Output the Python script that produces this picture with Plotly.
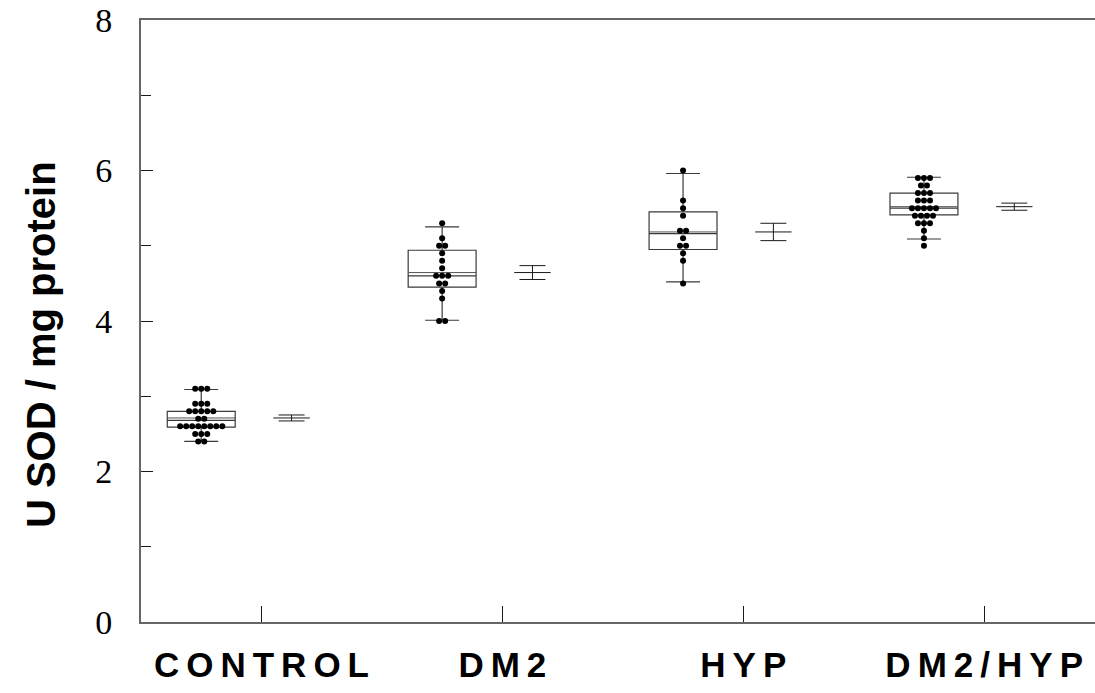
import numpy as np
import plotly.graph_objects as go

# Groups along the x axis
groups = ["CONTROL", "DM2", "HYP", "DM2/HYP"]

# Individual measurements (U SOD / mg protein)
control_vals = [3.1, 3.1, 3.1, 2.9, 2.9, 2.9, 2.8, 2.8, 2.8, 2.8, 2.8, 2.7, 2.7,
                2.6, 2.6, 2.6, 2.6, 2.6, 2.6, 2.6, 2.6, 2.5, 2.5, 2.5, 2.4, 2.4]
dm2_vals = [5.3, 5.1, 5.0, 5.0, 4.9, 4.8, 4.7, 4.6, 4.6, 4.6, 4.5, 4.5, 4.4, 4.3,
            4.0, 4.0]
hyp_vals = [6.0, 5.6, 5.5, 5.4, 5.2, 5.2, 5.1, 5.0, 5.0, 4.9, 4.8, 4.5]
dm2hyp_vals = [5.9, 5.9, 5.9, 5.8, 5.8, 5.7, 5.7, 5.7, 5.6, 5.6, 5.6,
               5.5, 5.5, 5.5, 5.5, 5.5, 5.4, 5.4, 5.4, 5.4,
               5.3, 5.3, 5.3, 5.2, 5.1, 5.0]
group_vals = [control_vals, dm2_vals, hyp_vals, dm2hyp_vals]

# Box summary per group (quartiles, median, whisker ends)
box_q1 = [2.59, 4.45, 4.95, 5.41]
box_median = [2.68, 4.60, 5.16, 5.50]
box_q3 = [2.80, 4.94, 5.45, 5.70]
whisker_lo = [2.40, 4.01, 4.52, 5.09]
whisker_hi = [3.09, 5.25, 5.96, 5.91]

# Layout of each group slot (x units, category centre at integer)
BOX_OFFSET = -0.25
SE_OFFSET = 0.125
BOX_WIDTH = 0.282
DOT_STEP = 0.025

LINE_GREY = "#666666"
INK = "#1a1a1a"
SANS = "Liberation Sans, Arial, sans-serif"

fig = go.Figure()

for i, vals in enumerate(group_vals):
    pos = i + BOX_OFFSET
    arr = np.asarray(vals, dtype=float)
    mean = arr.mean()
    sem = arr.std(ddof=1) / np.sqrt(arr.size)

    # box with whiskers
    fig.add_trace(go.Box(
        x=[pos], q1=[box_q1[i]], median=[box_median[i]], q3=[box_q3[i]],
        lowerfence=[whisker_lo[i]], upperfence=[whisker_hi[i]],
        width=BOX_WIDTH, whiskerwidth=0.5, boxpoints=False,
        fillcolor="rgba(0,0,0,0)", line=dict(color="#3a3a3a", width=1.2),
        hoverinfo="skip", showlegend=False,
    ))

    # mean line across the box
    fig.add_trace(go.Scatter(
        x=[pos - BOX_WIDTH / 2, pos + BOX_WIDTH / 2], y=[mean, mean],
        mode="lines", line=dict(color="#555555", width=1),
        hoverinfo="skip", showlegend=False,
    ))

    # dots stacked side by side when values coincide
    xs, ys = [], []
    uniq, counts = np.unique(np.round(arr, 2), return_counts=True)
    for v, n in zip(uniq, counts):
        for k in range(n):
            xs.append(pos + (k - (n - 1) / 2) * DOT_STEP)
            ys.append(v)
    fig.add_trace(go.Scatter(
        x=xs, y=ys, mode="markers",
        marker=dict(color="black", size=6, line=dict(width=0)),
        showlegend=False,
    ))

    # mean +/- SEM mark
    fig.add_trace(go.Scatter(
        x=[i + SE_OFFSET], y=[mean], mode="markers",
        marker=dict(symbol="line-ew", size=26, color=INK,
                    line=dict(color=INK, width=1)),
        error_y=dict(type="data", array=[sem], width=13, thickness=1,
                     color=INK),
        showlegend=False,
    ))

# letter-spaced category labels
tick_text = ["\u2009".join(g) for g in groups]

fig.update_layout(
    width=1095, height=693,
    margin=dict(l=141, r=0, t=20, b=71),
    paper_bgcolor="white", plot_bgcolor="white",
    xaxis=dict(
        range=[-0.5, 3.46], tickvals=[0, 1, 2, 3], ticktext=tick_text,
        ticks="inside", ticklen=16, tickcolor=INK, tickwidth=1,
        showline=True, linecolor=LINE_GREY, linewidth=2, mirror=True,
        showgrid=False, zeroline=False,
        tickfont=dict(family=SANS, size=35, color="black", weight="bold"),
        ticklabelstandoff=11,
    ),
    yaxis=dict(
        range=[0, 8], tickvals=[0, 2, 4, 6, 8],
        ticks="inside", ticklen=12, tickcolor=INK, tickwidth=1,
        minor=dict(tickvals=[1, 3, 5, 7], ticks="inside", ticklen=10,
                   tickcolor=INK, tickwidth=1, showgrid=False),
        showline=True, linecolor=LINE_GREY, linewidth=2,
        showgrid=False, zeroline=False,
        tickfont=dict(family="Liberation Serif, Times New Roman, serif",
                      size=34, color="black"),
        ticklabelstandoff=20,
    ),
    annotations=[dict(
        text="U SOD / mg protein", textangle=-90,
        xref="paper", yref="paper", x=0, y=0.46,
        xanchor="center", yanchor="middle", xshift=-100, showarrow=False,
        font=dict(family=SANS, size=40, color="black", weight="bold"),
    )],
)

fig.write_html("out.html")
